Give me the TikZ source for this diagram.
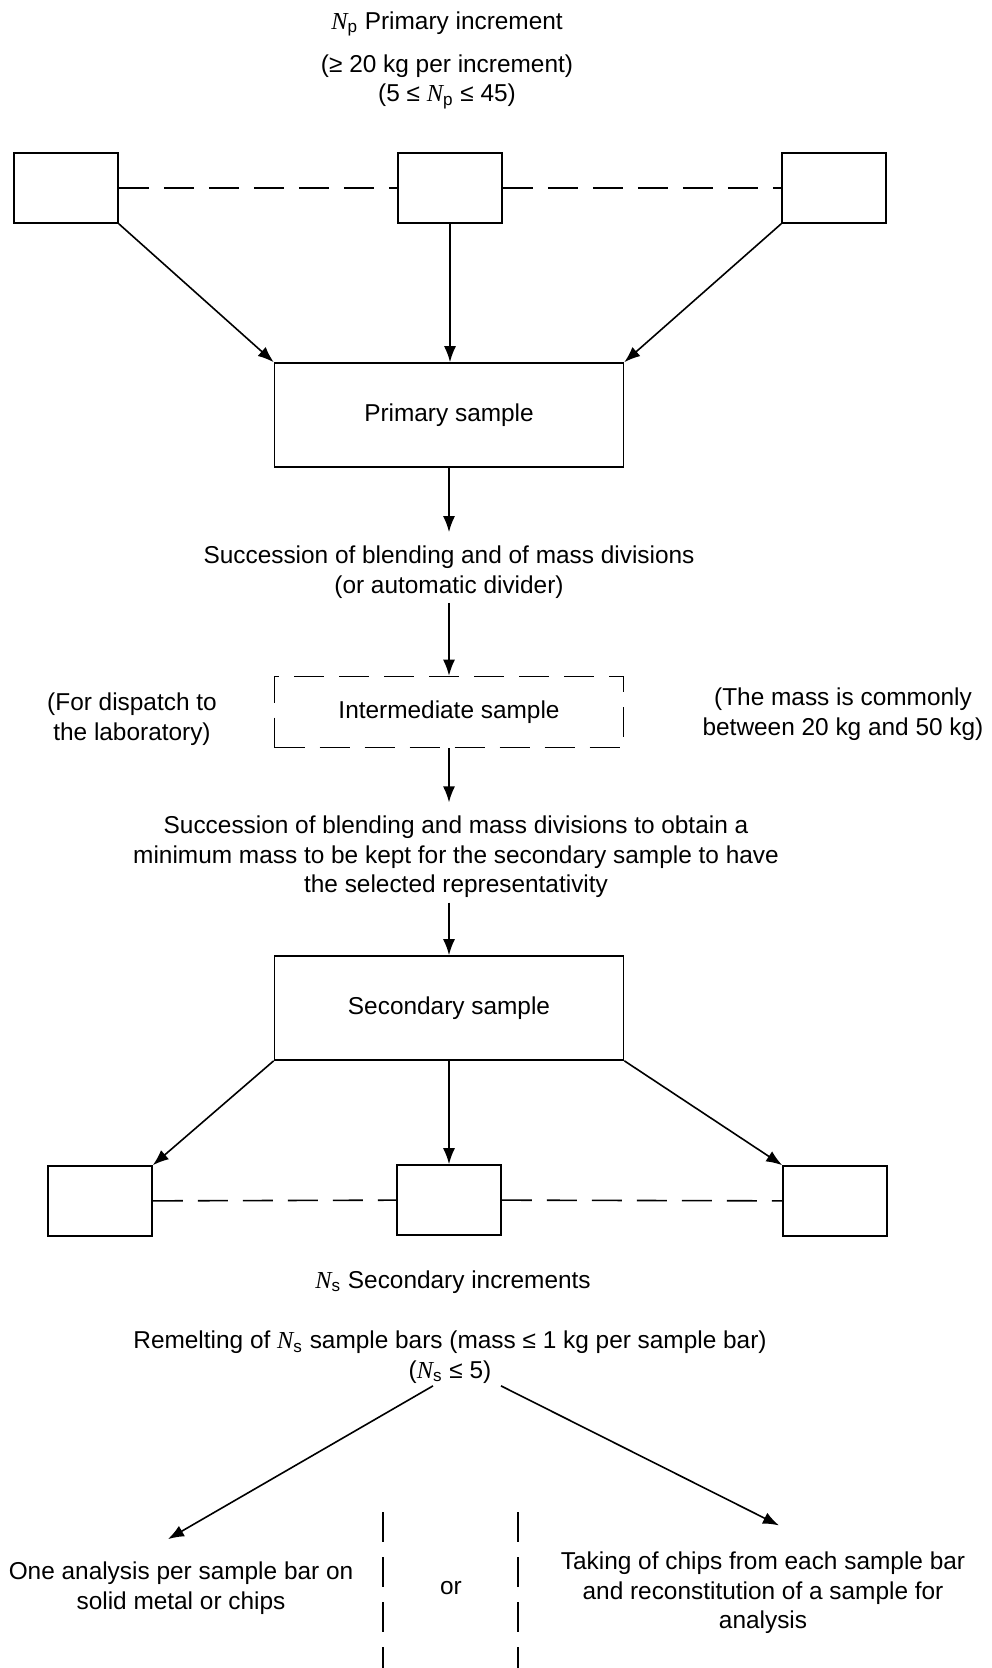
\documentclass[tikz,border=0pt]{standalone}
\usepackage{fontspec}
\setmainfont{Liberation Sans}
\newfontfamily\serifN{Liberation Serif}
\usepackage{tikz}
\usetikzlibrary{arrows.meta, positioning}
\tikzstyle{incr}=[rectangle, draw, minimum width=52pt, minimum height=35pt, inner sep=0pt]
\tikzstyle{sample}=[rectangle, draw, minimum width=174.5pt, minimum height=52pt]
\tikzstyle{link}=[dash pattern=on 15pt off 7.5pt]
\tikzstyle{interbox}=[sample, link, minimum height=35.5pt]
\tikzstyle{txt}=[align=center, inner sep=2pt]
\tikzstyle{flow}=[-{Latex[length=8pt, width=6pt]}]
\tikzstyle{flowtxt}=[flow, shorten >=4.5pt]
\newcommand{\incr}{\node[incr]}
\newcommand{\Nsym}[1]{{\serifN\itshape N}\textsubscript{#1}}

\begin{document}
\begin{tikzpicture}[x=0.5pt, y=-0.5pt, line width=0.8pt, font=\fontsize{12.2}{14.7}\selectfont]
            \useasboundingbox (0,0) rectangle (991,1668);
            % primary increments
            \node[txt] (np) at (447,24) {\Nsym{p} Primary increment};
            \node[txt] (npkg) at (447,82) {(≥ 20 kg per increment)\\(5 ≤ \Nsym{p} ≤ 45)};
            \incr (p1) at (66,188) {};
            \incr (p2) at (450,188) {};
            \incr (p3) at (834,188) {};
            \draw[link] (p1) -- (p2) -- (p3);
            \node[sample] (prim) at (449,415) {Primary sample};
            \draw[flow] (p1.south east) -- (prim.north west);
            \draw[flow] (p2.south) -- (p2.south |- prim.north);
            \draw[flow] (p3.south west) -- (prim.north east);
            % intermediate sample
            \node[txt] (blend1) at (449,572) {Succession of blending and of mass divisions\\(or automatic divider)};
            \draw[flowtxt] (prim.south) -- (prim.south |- blend1.north);
            \node[interbox] (inter) at (449,712) {Intermediate sample};
            \draw[flow] (blend1.south -| inter.north) -- (inter.north);
            \node[txt] (dispatch) at (132,719) {(For dispatch to\\the laboratory)};
            \node[txt] (massnote) at (843,714) {(The mass is commonly\\between 20 kg and 50 kg)};
            \node[txt] (blend2) at (456,857) {Succession of blending and mass divisions to obtain a\\minimum mass to be kept for the secondary sample to have\\the selected representativity};
            \draw[flowtxt] (inter.south) -- (inter.south |- blend2.north);
            % secondary sample
            \node[sample] (sec) at (449,1008) {Secondary sample};
            \draw[flow] (blend2.south -| sec.north) -- (sec.north);
            \incr (s1) at (100,1201) {};
            \incr (s2) at (449,1200) {};
            \incr (s3) at (835,1201) {};
            \draw[link] (s1) -- (s2) -- (s3);
            \draw[flow] (sec.south west) -- (s1.north east);
            \draw[flow] (sec.south) -- (s2.north);
            \draw[flow] (sec.south east) -- (s3.north west);
            \node[txt] (ns) at (453,1282) {\Nsym{s} Secondary increments};
            \node[txt] (remelt) at (450,1357) {Remelting of \Nsym{s} sample bars (mass ≤ 1 kg per sample bar)\\(\Nsym{s} ≤ 5)};
            % analysis
            \node[txt] (solid) at (181,1588) {One analysis per sample bar on\\solid metal or chips};
            \node[txt] (orsep) at (451,1588) {or};
            \node[txt] (chips) at (763,1593) {Taking of chips from each sample bar\\and reconstitution of a sample for\\analysis};
            \draw[flow] ([xshift=-8.5pt, yshift=1pt]remelt.south) -- ([xshift=-6.5pt, yshift=9pt]solid.north);
            \draw[flow] ([xshift=25.5pt, yshift=1pt]remelt.south) -- ([xshift=8pt, yshift=11pt]chips.north);
            \draw[link] (383,1512) -- (383,1668);
            \draw[link] (518,1512) -- (518,1668);
        \end{tikzpicture}
\end{document}
